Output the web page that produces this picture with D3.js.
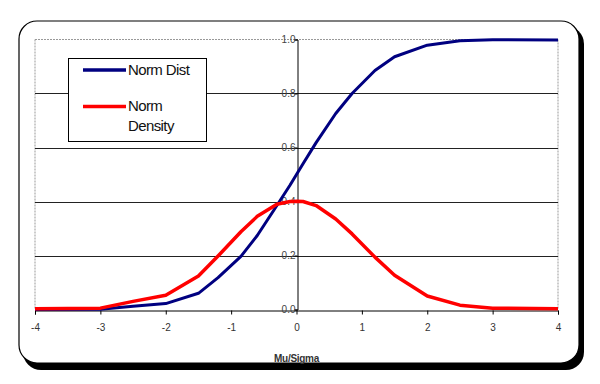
<!DOCTYPE html>
<html><head><meta charset="utf-8">
<script src="https://cdn.jsdelivr.net/npm/d3@7"></script>
<style>body{margin:0;background:#fff}svg{display:block}</style>
</head><body>
<script>
const xValues   = [-4, -3, -2.5, -2, -1.5, -1.2, -0.85, -0.6, -0.3, -0.1, 0, 0.1, 0.3, 0.6, 0.85, 1.2, 1.5, 2, 2.5, 3, 4];
const normDist  = [0.0, 0.001, 0.012, 0.022, 0.06, 0.118, 0.197, 0.274, 0.385, 0.46, 0.5, 0.54, 0.618, 0.726, 0.8, 0.885, 0.936, 0.979, 0.995, 0.999, 0.998];
const normDens  = [0.003, 0.005, 0.03, 0.053, 0.124, 0.198, 0.288, 0.345, 0.39, 0.4, 0.401, 0.4, 0.385, 0.335, 0.28, 0.194, 0.127, 0.05, 0.016, 0.005, 0.003];
const xTicks = [-4, -3, -2, -1, 0, 1, 2, 3, 4];
const yTicks = [0, 0.2, 0.4, 0.6, 0.8, 1.0];
const seriesNames = ["Norm Dist", "Norm Density"];
const xTitle = "Mu/Sigma";

const W = 600, H = 384;
const svg = d3.select("body").append("svg").attr("width", W).attr("height", H);

// frame with shadow
svg.append("rect").attr("x", 23).attr("y", 26).attr("width", 561).attr("height", 344)
  .attr("rx", 18).attr("fill", "#000");
svg.append("rect").attr("x", 19).attr("y", 21).attr("width", 560).attr("height", 342)
  .attr("rx", 18).attr("fill", "#fff").attr("stroke", "#000").attr("stroke-width", 1.2);

const x = d3.scaleLinear().domain([-4, 4]).range([35, 558]);
const y = d3.scaleLinear().domain([0, 1]).range([309.5, 39.5]);

// plot border (dashed gray)
const g = svg.append("g");
g.append("line").attr("x1", x(-4)).attr("x2", x(4)).attr("y1", y(1)).attr("y2", y(1))
  .attr("stroke", "#999").attr("stroke-dasharray", "2,1");
g.append("line").attr("x1", x(-4)).attr("x2", x(-4)).attr("y1", y(1)).attr("y2", y(0))
  .attr("stroke", "#999").attr("stroke-dasharray", "2,1");
g.append("line").attr("x1", x(4)).attr("x2", x(4)).attr("y1", y(1)).attr("y2", y(0))
  .attr("stroke", "#999").attr("stroke-dasharray", "2,1");

// gridlines
g.selectAll(".grid").data(yTicks.filter(d => d > 0 && d < 1)).join("line")
  .attr("x1", x(-4)).attr("x2", x(4))
  .attr("y1", d => Math.round(y(d)) + 0.5).attr("y2", d => Math.round(y(d)) + 0.5)
  .attr("stroke", "#222").attr("stroke-width", 1);

const ft = "Liberation Sans, Arial, sans-serif";

// x axis
const xAxis = d3.axisBottom(x).tickValues(xTicks).tickSize(4).tickFormat(d3.format("d"));
const xa = svg.append("g").attr("transform", `translate(0,${Math.round(y(0)) + 0.5})`).call(xAxis);
xa.select(".domain").attr("stroke", "#000");
xa.selectAll(".tick line").attr("stroke", "#000");
xa.selectAll("text").attr("font-family", ft).attr("font-size", 10)
  .attr("fill", "#333").attr("y", 11).attr("dy", "0.95em").text(d => d < 0 ? "-" + Math.abs(d) : d);

// y axis at x=0
const yAxis = d3.axisLeft(y).tickValues(yTicks).tickSize(3).tickFormat(d3.format(".1f"));
const ya = svg.append("g").attr("transform", `translate(${Math.round(x(0)) + 0.5},0)`).call(yAxis);
ya.select(".domain").attr("stroke", "#000");
ya.selectAll(".tick line").attr("stroke", "#000");
ya.selectAll("text").attr("font-family", ft).attr("font-size", 10)
  .attr("fill", "#444").attr("x", -2);

// lines
const pts1 = xValues.map((v, i) => [v, normDist[i]]);
const pts2 = xValues.map((v, i) => [v, normDens[i]]);
const line = d3.line().x(d => x(d[0])).y(d => y(d[1]));
svg.append("path").datum(pts1).attr("d", line).attr("fill", "none")
  .attr("stroke", "#000080").attr("stroke-width", 3).attr("stroke-linejoin", "round");
svg.append("path").datum(pts2).attr("d", line).attr("fill", "none")
  .attr("stroke", "#ff0000").attr("stroke-width", 3.5).attr("stroke-linejoin", "round");

// axis title
svg.append("text").attr("x", x(0)).attr("y", 362).attr("text-anchor", "middle")
  .attr("font-family", ft).attr("font-size", 10)
  .attr("font-weight", "bold").attr("fill", "#333").attr("letter-spacing", -0.3).text(xTitle);

// legend
const lg = svg.append("g");
lg.append("rect").attr("x", 68.5).attr("y", 58.5).attr("width", 138).attr("height", 83)
  .attr("fill", "#fff").attr("stroke", "#000").attr("stroke-width", 1);
const colors = ["#000080", "#ff0000"];
const ly = [70, 106.5];
seriesNames.forEach((name, i) => {
  lg.append("line").attr("x1", 83).attr("x2", 126).attr("y1", ly[i]).attr("y2", ly[i])
    .attr("stroke", colors[i]).attr("stroke-width", 3.5);
});
lg.append("text").attr("x", 128).attr("y", 75).attr("font-family", ft).attr("font-size", 15)
  .attr("letter-spacing", -0.6).attr("fill", "#111").text(seriesNames[0]);
const t2 = lg.append("text").attr("font-family", ft).attr("font-size", 15)
  .attr("letter-spacing", -0.6).attr("fill", "#111");
t2.append("tspan").attr("x", 128).attr("y", 111).text(seriesNames[1].split(" ")[0]);
t2.append("tspan").attr("x", 128).attr("y", 131).text(seriesNames[1].split(" ")[1]);
</script>
</body></html>
